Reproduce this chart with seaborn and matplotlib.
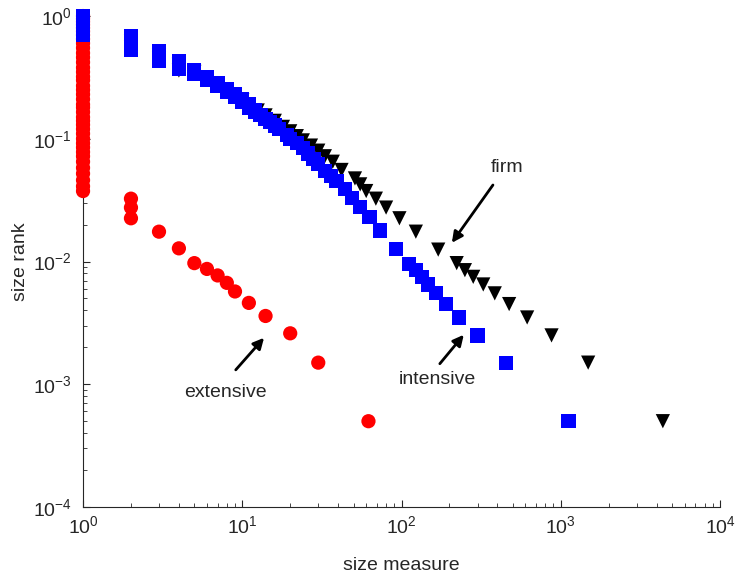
import pandas as pd
import numpy as np
import matplotlib
matplotlib.use('Agg')
import matplotlib.pyplot as plt
import seaborn as sns

# extensive margin (red circles)
ext_x = [1] * 40 + [2, 2, 2, 3, 4, 5, 6, 7, 8, 9, 11, 14, 20, 30, 62]
ext_y = [0.9995, 0.95, 0.9, 0.85, 0.8, 0.75, 0.7, 0.65, 0.6, 0.55, 0.5, 0.46, 0.42,
         0.38, 0.35, 0.32, 0.3, 0.27, 0.25, 0.23, 0.21, 0.19, 0.18, 0.165, 0.15, 0.14,
         0.13, 0.12, 0.11, 0.1, 0.092, 0.085, 0.078, 0.072, 0.065, 0.058, 0.052, 0.046,
         0.041, 0.0375,
         0.0325, 0.0275, 0.0225, 0.0175, 0.0128, 0.0097, 0.0087, 0.0077, 0.0067, 0.0057,
         0.0046, 0.0036, 0.0026, 0.0015, 0.0005]

# firm (black triangles)
firm_x = [1, 1, 2, 2, 3, 3, 4, 4, 5, 6, 7, 8, 9, 10, 11, 12.5, 14, 16, 18, 20, 22, 24,
          27, 30, 33, 37, 42, 51, 55, 60, 69, 80, 97, 123, 170, 222, 250, 282, 326,
          385, 474, 615, 875, 1486, 4375]
firm_y = [0.9, 0.7, 0.62, 0.55, 0.48, 0.45, 0.40, 0.36, 0.35, 0.31, 0.28, 0.25, 0.225,
          0.205, 0.19, 0.17, 0.155, 0.14, 0.125, 0.115, 0.105, 0.097, 0.088, 0.08, 0.072,
          0.065, 0.0557, 0.0475, 0.0425, 0.0375, 0.0325, 0.0275, 0.0225, 0.0175, 0.0125,
          0.0097, 0.0085, 0.0075, 0.0065, 0.0055, 0.0045, 0.0035, 0.0025, 0.0015, 0.0005]

# intensive margin (blue squares)
int_x = [1, 1, 1, 1, 1, 1, 1, 2, 2, 2, 2, 2, 3, 3, 3, 3, 4, 4, 4, 5, 5, 6, 6, 7, 7,
         8, 8, 9, 9, 10, 10, 11, 11, 12, 12, 13, 14, 15, 16, 17, 19, 20, 22, 24, 26,
         28, 30, 33, 36, 39, 44, 48.6, 55, 63, 73, 92, 112, 123, 134, 147, 164, 190,
         230, 300, 452, 1120]
int_y = [0.9995, 0.95, 0.9, 0.85, 0.8, 0.75, 0.7, 0.69, 0.64, 0.6, 0.56, 0.53, 0.52,
         0.48, 0.45, 0.43, 0.43, 0.40, 0.37, 0.36, 0.34, 0.32, 0.30, 0.285, 0.27, 0.255,
         0.24, 0.23, 0.22, 0.21, 0.20, 0.19, 0.18, 0.17, 0.165, 0.157, 0.145, 0.137,
         0.128, 0.12, 0.108, 0.1, 0.092, 0.084, 0.076, 0.068, 0.062, 0.055, 0.05, 0.0455,
         0.039, 0.0328, 0.028, 0.0229, 0.0179, 0.0127, 0.0095, 0.0085, 0.0075, 0.0065,
         0.0055, 0.0045, 0.0035, 0.0025, 0.0015, 0.0005]

df = pd.concat([
    pd.DataFrame({'size': ext_x, 'rank': ext_y, 'margin': 'extensive'}),
    pd.DataFrame({'size': firm_x, 'rank': firm_y, 'margin': 'firm'}),
    pd.DataFrame({'size': int_x, 'rank': int_y, 'margin': 'intensive'}),
], ignore_index=True)

sns.set_style('ticks', {'xtick.direction': 'in', 'ytick.direction': 'in'})
plt.rcParams['font.family'] = ['Liberation Sans', 'DejaVu Sans']

fig = plt.figure(figsize=(7.36, 5.76), dpi=100)
ax = fig.add_axes([0.1128, 0.1198, 0.8655, 0.8524])

sns.scatterplot(data=df, x='size', y='rank', hue='margin', style='margin',
                palette={'extensive': '#ff0000', 'firm': 'black', 'intensive': '#0000ff'},
                markers={'extensive': 'o', 'firm': 'v', 'intensive': 's'},
                s=105, linewidth=0, legend=False, clip_on=False, zorder=3, ax=ax)

ax.set_xscale('log')
ax.set_yscale('log')
ax.set_xlim(1, 1e4)
ax.set_ylim(1e-4, 1)
sns.despine(ax=ax)
ax.tick_params(which='both', direction='in', labelsize=14, color='#262626')
ax.tick_params(axis='y', which='major', pad=8)
ax.tick_params(axis='x', which='major', pad=6)
ax.tick_params(which='major', length=5)
ax.tick_params(which='minor', length=3)
ax.spines['left'].set_color('#262626')
ax.spines['bottom'].set_color('#262626')
ax.set_xlabel('size measure', fontsize=14, color='#262626', labelpad=14)
ax.set_ylabel('size rank', fontsize=14, color='#262626', labelpad=3)

arrow = dict(arrowstyle='-|>', color='black', lw=2, mutation_scale=16,
             shrinkA=0, shrinkB=0)
ax.annotate('', xy=(207, 0.0142), xytext=(375, 0.042), arrowprops=arrow)
ax.text(459, 0.0578, 'firm', fontsize=14, ha='center', va='center')
ax.annotate('', xy=(246, 0.00253), xytext=(174, 0.00147), arrowprops=arrow)
ax.text(169, 0.00109, 'intensive', fontsize=14, ha='center', va='center')
ax.annotate('', xy=(13.7, 0.00239), xytext=(9.1, 0.00131), arrowprops=arrow)
ax.text(7.8, 0.00085, 'extensive', fontsize=14, ha='center', va='center')

fig.savefig('out.png', dpi=100)
